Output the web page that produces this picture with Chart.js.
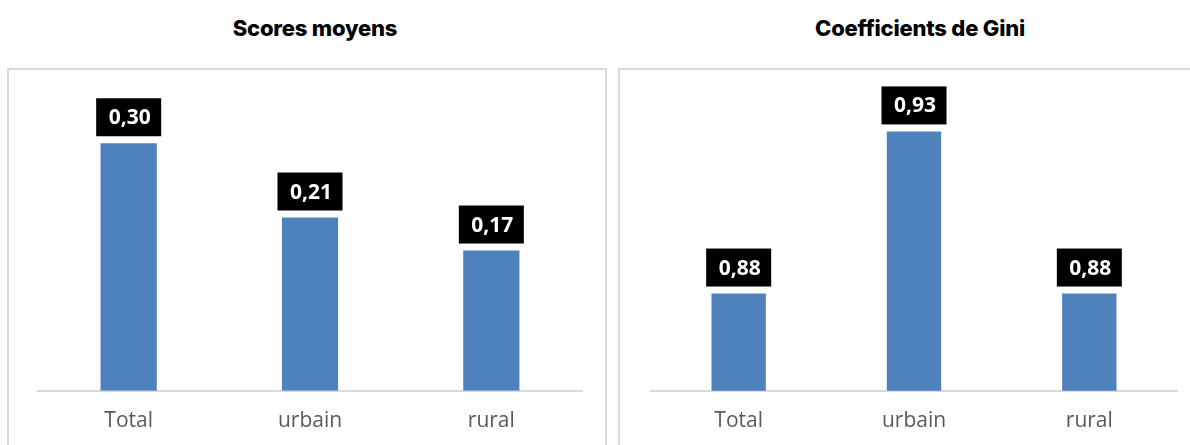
<!DOCTYPE html>
<html lang="fr">
<head>
<meta charset="utf-8">
<title>Scores moyens et coefficients de Gini</title>
<script src="https://cdn.jsdelivr.net/npm/chart.js@4.4.1/dist/chart.umd.min.js"></script>
<style>
  html, body { margin: 0; padding: 0; background: #fff; }
  body { position: relative; width: 1190px; height: 445px; overflow: hidden; }
  .titre {
    position: absolute; top: 14px; height: 28px; line-height: 28px;
    text-align: center; font-family: Inter, "Noto Sans", sans-serif;
    font-weight: 800; font-size: 22px; color: #000; letter-spacing: -0.2px;
  }
  .cadre {
    position: absolute; top: 68px; height: 400px;
    border: 2px solid #d9d9d9; border-bottom: none; box-sizing: border-box;
  }
  .zone { position: absolute; top: 69px; height: 395px; }
</style>
</head>
<body>
  <div class="titre" style="left:115px;width:400px;">Scores moyens</div>
  <div class="titre" style="left:720px;width:400px;">Coefficients de Gini</div>
  <div class="cadre" style="left:7px;width:600px;"></div>
  <div class="cadre" style="left:618px;width:600px;"></div>
  <div class="zone" style="left:7px;width:600px;"><canvas id="scoresChart" width="600" height="395"></canvas></div>
  <div class="zone" style="left:618px;width:572px;"><canvas id="giniChart" width="572" height="395"></canvas></div>

<script>
// Données
const categories = ['Total', 'urbain', 'rural'];
const scoresMoyens = [0.30, 0.21, 0.17];
const coefficientsGini = [0.88, 0.93, 0.88];

const barColor = '#4f81bd';
const axisColor = '#d9d9d9';

// Étiquettes de valeur : encadré noir, texte blanc, format français
const etiquettes = {
  id: 'etiquettes',
  afterDatasetsDraw(chart) {
    const ctx = chart.ctx;
    const meta = chart.getDatasetMeta(0);
    const values = chart.data.datasets[0].data;
    ctx.save();
    ctx.font = 'bold 21px "Open Sans", sans-serif';
    ctx.textAlign = 'center';
    ctx.textBaseline = 'middle';
    meta.data.forEach((bar, i) => {
      const w = 65, h = 38;
      const bottom = bar.y - 7;
      ctx.fillStyle = '#000';
      ctx.fillRect(bar.x - w / 2, bottom - h, w, h);
      ctx.fillStyle = '#fff';
      ctx.fillText(values[i].toFixed(2).replace('.', ','), bar.x + 1, bottom - h / 2 + 1);
    });
    ctx.restore();
  }
};

function makeChart(id, values, yMin, yMax, padding) {
  return new Chart(document.getElementById(id), {
    type: 'bar',
    data: {
      labels: categories,
      datasets: [{
        data: values,
        backgroundColor: barColor,
        borderWidth: 0,
        categoryPercentage: 1,
        barPercentage: 0.31
      }]
    },
    options: {
      responsive: false,
      animation: false,
      devicePixelRatio: 1,
      layout: { padding: padding },
      plugins: {
        legend: { display: false },
        tooltip: { enabled: false }
      },
      scales: {
        x: {
          grid: { display: false, drawTicks: false },
          border: { display: true, color: axisColor, width: 2 },
          ticks: {
            color: '#595959',
            padding: 18,
            font: { family: '"Open Sans", sans-serif', size: 21 }
          }
        },
        y: { display: false, min: yMin, max: yMax }
      }
    },
    plugins: [etiquettes]
  });
}

makeChart('scoresChart', scoresMoyens, 0, 0.35, { left: 31, right: 25, top: 33, bottom: 12 });
makeChart('giniChart', coefficientsGini, 0.85, 0.94, { left: 33, right: 13, top: 30, bottom: 12 });
</script>
</body>
</html>
